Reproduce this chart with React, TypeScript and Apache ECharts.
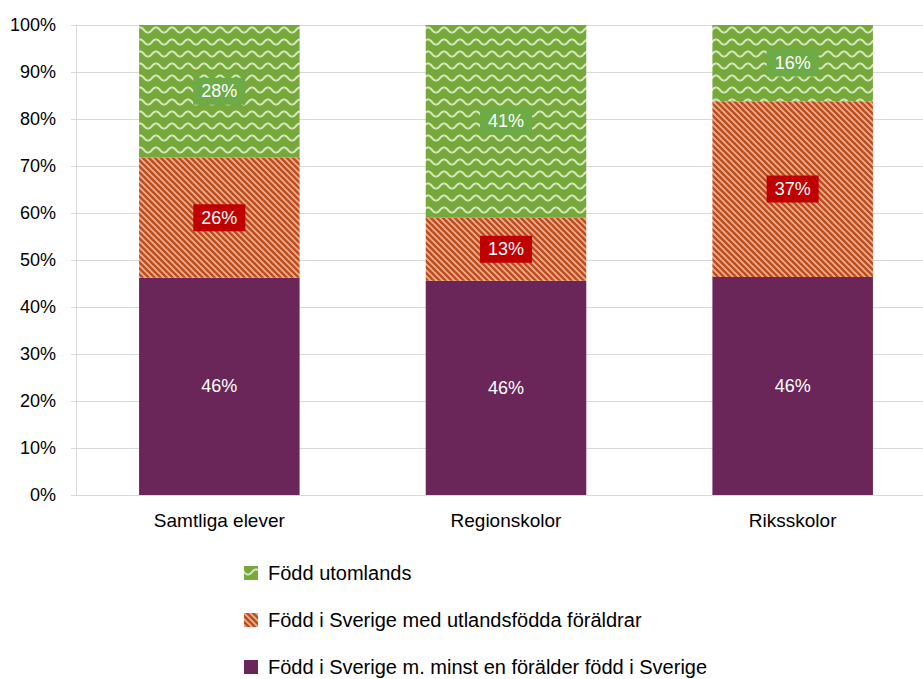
import React, { useEffect, useRef } from "react";
import * as echarts from "echarts";

const categories = ["Samtliga elever", "Regionskolor", "Riksskolor"];
const seriesNames = [
  "Född i Sverige m. minst en förälder född i Sverige",
  "Född i Sverige med utlandsfödda föräldrar",
  "Född utomlands",
];
const swedishParents = [46.2, 45.6, 46.4];
const foreignParents = [25.6, 13.4, 37.4];
const bornAbroad = [28.2, 41.0, 16.2];
const yTicks = [0, 10, 20, 30, 40, 50, 60, 70, 80, 90, 100];

const FONT = "'Liberation Sans', Arial, sans-serif";

function makeWave(): any {
  const w = 16, h = 12;
  const c = document.createElement("canvas");
  c.width = w; c.height = h;
  const ctx = c.getContext("2d")!;
  ctx.fillStyle = "#77A83B";
  ctx.fillRect(0, 0, w, h);
  ctx.strokeStyle = "#D6E7BD";
  ctx.lineWidth = 2;
  ctx.beginPath();
  for (let x = -1; x <= w + 1; x += 0.5) {
    const y = 6 + 2.6 * Math.sin((2 * Math.PI * x) / w);
    if (x === -1) ctx.moveTo(x, y); else ctx.lineTo(x, y);
  }
  ctx.stroke();
  return { image: c, repeat: "repeat", imageWidth: w, imageHeight: h };
}

function makeStripes(): any {
  const s = 6;
  const c = document.createElement("canvas");
  c.width = s; c.height = s;
  const ctx = c.getContext("2d")!;
  ctx.fillStyle = "#BF4E1E";
  ctx.fillRect(0, 0, s, s);
  ctx.strokeStyle = "#ECB399";
  ctx.lineWidth = 1.6;
  ctx.beginPath();
  ctx.moveTo(-1, -1); ctx.lineTo(s + 1, s + 1);
  ctx.moveTo(-1, s - 1); ctx.lineTo(1, s + 1);
  ctx.moveTo(s - 1, -1); ctx.lineTo(s + 1, 1);
  ctx.stroke();
  return { image: c, repeat: "repeat", imageWidth: s, imageHeight: s };
}

export default function App() {
  const ref = useRef<HTMLDivElement>(null);
  useEffect(() => {
    if (!ref.current) return;
    const chart = echarts.init(ref.current, undefined, { renderer: "svg" });
    const wave = makeWave();
    const stripes = makeStripes();
    const labelBase = {
      show: true,
      position: "inside",
      color: "#ffffff",
      fontFamily: FONT,
      fontSize: 18,
      formatter: (p: any) => Math.round(p.value) + "%",
    };
    chart.setOption({
      animation: false,
      backgroundColor: "#ffffff",
      textStyle: { fontFamily: FONT },
      grid: { left: 76, width: 860, top: 25, bottom: 184, containLabel: false, outerBoundsMode: "none" },
      legend: {
        orient: "vertical",
        left: 244,
        top: 563,
        padding: 0,
        height: 200,
        icon: "rect",
        itemWidth: 14,
        itemHeight: 14,
        itemGap: 27,
        data: [seriesNames[2], seriesNames[1], seriesNames[0]],
        textStyle: { fontFamily: FONT, fontSize: 20, color: "#000", lineHeight: 20, padding: [0, 0, 0, 5] },
      },
      xAxis: {
        type: "category",
        data: categories,
        axisLine: { show: true, lineStyle: { color: "#D9D9D9", width: 1 } },
        axisTick: { show: false },
        axisLabel: { color: "#000", fontFamily: FONT, fontSize: 19, margin: 16 },
      },
      yAxis: {
        type: "value",
        min: 0,
        max: 100,
        interval: 10,
        axisLine: { show: true, lineStyle: { color: "#D9D9D9", width: 1 } },
        axisTick: { show: true, length: 5, lineStyle: { color: "#D9D9D9" } },
        splitLine: { show: true, lineStyle: { color: "#D9D9D9", width: 1 } },
        axisLabel: {
          color: "#000",
          fontFamily: FONT,
          fontSize: 18,
          margin: 20,
          formatter: (v: number) => (yTicks.includes(v) ? v + "%" : ""),
        },
      },
      series: [
        {
          name: seriesNames[0],
          type: "bar",
          stack: "total",
          barWidth: "56%",
          data: swedishParents,
          itemStyle: { color: "#6A2658" },
          label: { ...labelBase },
        },
        {
          name: seriesNames[1],
          type: "bar",
          stack: "total",
          barWidth: "56%",
          data: foreignParents,
          itemStyle: { color: stripes },
          label: { ...labelBase, backgroundColor: "#C00000", padding: [5, 8, 4, 8] },
        },
        {
          name: seriesNames[2],
          type: "bar",
          stack: "total",
          barWidth: "56%",
          data: bornAbroad,
          itemStyle: { color: wave },
          label: { ...labelBase, backgroundColor: "#6CAB45", padding: [5, 8, 4, 8] },
        },
      ],
    });
    return () => chart.dispose();
  }, []);
  return (
    <div
      ref={ref}
      style={{ position: "absolute", left: 0, top: 0, width: 923, height: 679, background: "#fff" }}
    />
  );
}
